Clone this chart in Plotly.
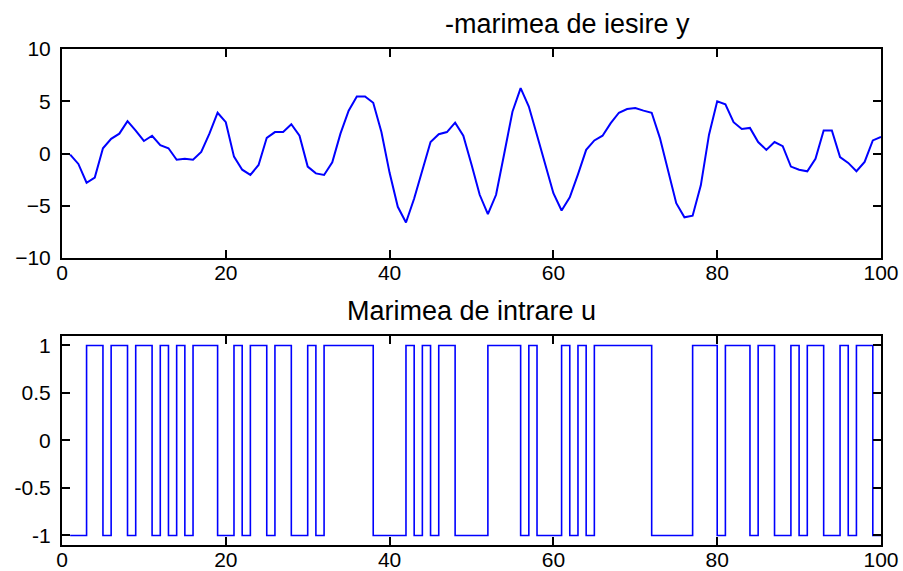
import plotly.graph_objects as go

# ---- data ----
k = list(range(1, 101))

y_out = [-0.1, -1.0, -2.8, -2.3, 0.5, 1.4, 1.9, 3.1, 2.2, 1.2,
         1.7, 0.8, 0.5, -0.6, -0.5, -0.6, 0.15, 1.9, 3.9, 3.0,
         -0.3, -1.55, -2.05, -1.1, 1.5, 2.05, 2.05, 2.8, 1.7, -1.25,
         -1.9, -2.05, -0.85, 1.9, 4.1, 5.45, 5.45, 4.85, 2.05, -1.85,
         -5.1, -6.6, -4.3, -1.5, 1.1, 1.85, 2.05, 2.95, 1.7, -1.05,
         -3.95, -5.8, -3.95, 0.0, 4.0, 6.25, 4.5, 1.75, -1.0, -3.8,
         -5.45, -4.2, -2.0, 0.35, 1.25, 1.7, 2.9, 3.9, 4.25, 4.35,
         4.1, 3.9, 1.5, -1.7, -4.75, -6.1, -5.95, -3.05, 1.8, 5.0,
         4.7, 3.0, 2.35, 2.45, 1.1, 0.35, 1.1, 0.7, -1.25, -1.55,
         -1.7, -0.5, 2.2, 2.2, -0.35, -0.9, -1.7, -0.8, 1.25, 1.6]

u_in = [-1, -1, 1, 1, -1, 1, 1, -1, 1, 1,
        -1, 1, -1, 1, -1, 1, 1, 1, -1, -1,
        1, -1, 1, 1, -1, 1, 1, -1, -1, 1,
        -1, 1, 1, 1, 1, 1, 1, -1, -1, -1,
        -1, 1, -1, 1, -1, 1, 1, -1, -1, -1,
        -1, 1, 1, 1, 1, -1, 1, -1, -1, -1,
        1, -1, 1, -1, 1, 1, 1, 1, 1, 1,
        1, -1, -1, -1, -1, -1, 1, 1, 1, -1,
        1, 1, 1, -1, 1, 1, -1, -1, 1, -1,
        1, 1, -1, -1, 1, -1, 1, 1, -1, -1]

x_ticks = [0, 20, 40, 60, 80, 100]
y1_ticks = [-10, -5, 0, 5, 10]
y2_ticks = [-1, -0.5, 0, 0.5, 1]
y2_labels = ["-1", "-0.5", "0", "0.5", "1"]

title_top = "-marimea de iesire y"
title_bot = "Marimea de intrare u"

# ---- figure ----
FONT = "Liberation Sans, Arial, sans-serif"
fig = go.Figure()
fig.add_trace(go.Scatter(x=k, y=y_out, mode="lines",
                         line=dict(color="#0000FF", width=2),
                         xaxis="x", yaxis="y", showlegend=False))
fig.add_trace(go.Scatter(x=k, y=u_in, mode="lines", line_shape="hv",
                         line=dict(color="#0000FF", width=1.6),
                         xaxis="x2", yaxis="y2", showlegend=False))

axis_common = dict(showline=True, linecolor="black", linewidth=2,
                   mirror="ticks", ticks="inside", ticklen=8, tickwidth=2,
                   tickcolor="black", showgrid=False, zeroline=False,
                   automargin=False,
                   tickfont=dict(family=FONT, size=21, color="black"))
x_extra = dict(ticklabelstandoff=-5)
y_extra = dict(ticklabelstandoff=5)

fig.update_layout(
    template="none",
    width=903, height=571,
    margin=dict(l=62, r=22, t=49, b=26),
    paper_bgcolor="white", plot_bgcolor="white",
    xaxis=dict(domain=[0, 1], range=[0, 100], tickvals=x_ticks,
               anchor="y", **axis_common, **x_extra),
    yaxis=dict(domain=[0.5786, 1], range=[-10, 10], tickvals=y1_ticks,
               anchor="x", **axis_common, **y_extra),
    xaxis2=dict(domain=[0, 1], range=[0, 100], tickvals=x_ticks,
                anchor="y2", **axis_common, **x_extra),
    yaxis2=dict(domain=[0, 0.4214], range=[-1.1, 1.1], tickvals=y2_ticks,
                ticktext=y2_labels, anchor="x2", **axis_common, **y_extra),
    annotations=[
        dict(text=title_top, xref="paper", yref="paper", x=0.617, y=1.050,
             xanchor="center", yanchor="middle", showarrow=False,
             font=dict(family=FONT, size=27, color="black")),
        dict(text=title_bot, xref="paper", yref="paper", x=0.5, y=0.472,
             xanchor="center", yanchor="middle", showarrow=False,
             font=dict(family=FONT, size=27, color="black")),
    ],
)

fig.write_html("out.html")
